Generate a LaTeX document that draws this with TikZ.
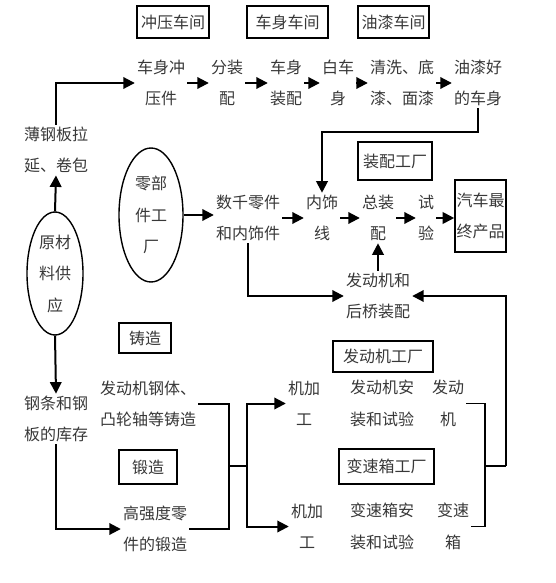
\documentclass[tikz,border=0pt]{standalone}
\usepackage{fontspec}
\newfontfamily\cjk{Noto Sans CJK SC}
\usetikzlibrary{arrows.meta,shapes.geometric}
\begin{document}
\begin{tikzpicture}[x=1pt,y=-1pt,
 txt/.style={font=\cjk\fontsize{16}{31.5}\selectfont, text=black!78, align=center, inner sep=2pt},
 lbl/.style={txt, draw=black, line width=1.6pt, inner sep=0pt},
 arr/.style={line width=2pt, -{Triangle[length=11.5pt,width=11.5pt]}},
 ln/.style={line width=1.6pt},
 ell/.style={txt, draw=black, ellipse, line width=1.4pt, inner sep=0pt}]
\fill[white] (0,0) rectangle (556,583);
\useasboundingbox (0,0) rectangle (556,583);

% top labels
\node[lbl, minimum width=72, minimum height=32] (ch) at (173,22) {冲压车间};
\node[lbl, minimum width=81, minimum height=32] (cs) at (287.5,22) {车身车间};
\node[lbl, minimum width=71, minimum height=32] (yq) at (393.5,22) {油漆车间};

% row 1
\node[txt] (a1) at (161,83) {车身冲\\压件};
\node[txt] (a2) at (227,83) {分装\\配};
\node[txt] (a3) at (286,83) {车身\\装配};
\node[txt] (a4) at (338,83) {白车\\身};
\node[txt] (a5) at (402,83) {清洗、底\\漆、面漆};
\node[txt] (a6) at (478,83) {油漆好\\的车身};
\draw[arr] (a1) -- (a2);
\draw[arr] (a2) -- (a3);
\draw[arr] (a3) -- (a4);
\draw[arr] (a4) -- (a5);
\draw[arr] (a5) -- (a6);

% raw material
\node[ell, minimum width=56, minimum height=123] (yc) at (55,273.5) {原材\\料供\\应};
\node[txt] (bg) at (56,150) {薄钢板拉\\延、卷包};
\node[txt] (gt) at (56,419) {钢条和钢\\板的库存};
\draw[arr] (yc.north) -- (bg.south);
\draw[arr] (yc.south) -- (gt.north);
\draw[arr] (bg.north) |- (a1.west);

% assembly plant
\node[lbl, minimum width=74, minimum height=38] (zp) at (395,161) {装配工厂};
\node[ell, minimum width=64, minimum height=134] (lb) at (151,215) {零部\\件工\\厂};
\node[txt] (b1) at (248,218) {数千零件\\和内饰件};
\node[txt] (b2) at (322,218) {内饰\\线};
\node[txt] (b3) at (378,218) {总装\\配};
\node[txt] (b4) at (426,218) {试\\验};
\node[lbl, minimum width=51, minimum height=72, inner sep=1pt] (b5) at (480.5,216) {汽车最\\终产品};
\draw[arr] (a6.south) -- ++(0,24) -| (b2.north);
\draw[arr] (lb.east) -- (lb.east -| b1.west);
\draw[arr] (b1) -- (b2);
\draw[arr] (b2) -- (b3);
\draw[arr] (b3) -- (b4);
\draw[arr] (b4.east) -- (b4.east -| b5.west);

\node[txt] (hq) at (378,296) {发动机和\\后桥装配};
\draw[arr] (hq.north) -- (b3.south);
\draw[arr] (b1.south) |- (hq.west);

% casting / forging
\node[lbl, minimum width=52, minimum height=30] (zz) at (145,338) {铸造};
\node[lbl, minimum width=58, minimum height=34] (dz) at (148,467) {锻造};
\node[txt] (c1) at (148,404) {发动机钢体、\\凸轮轴等铸造};
\node[txt] (c2) at (155,529) {高强度零\\件的锻造};
\draw[arr] (gt.south) |- (c2.west);

% engine / gearbox plants
\node[lbl, minimum width=100, minimum height=31] (fg) at (383,356.5) {发动机工厂};
\node[lbl, minimum width=95, minimum height=35] (bx) at (386.5,466.5) {变速箱工厂};
\node[txt] (d1) at (304,403.5) {机加\\工};
\node[txt] (d2) at (382,403.5) {发动机安\\装和试验};
\node[txt] (d3) at (448,403.5) {发动\\机};
\node[txt] (e1) at (307,526.5) {机加\\工};
\node[txt] (e2) at (382,526.5) {变速箱安\\装和试验};
\node[txt] (e3) at (453,526.5) {变速\\箱};

\coordinate (j1) at (229,466);
\coordinate (j2) at (247,466);
\coordinate (j3) at (485,466);
\coordinate (j4) at (506,466);
\draw[ln] (c1.east) -| (j1);
\draw[ln] (c2.east) -| (j1);
\draw[ln] (j1) -- (j2);
\draw[arr] (j2) |- (d1.west);
\draw[arr] (j2) |- (e1.west);
\draw[ln] (d3.east) -| (j3);
\draw[ln] (e3.east) -| (j3);
\draw[ln] (j3) -- (j4);
\draw[arr] (j4) |- (hq.east);
\end{tikzpicture}
\end{document}
